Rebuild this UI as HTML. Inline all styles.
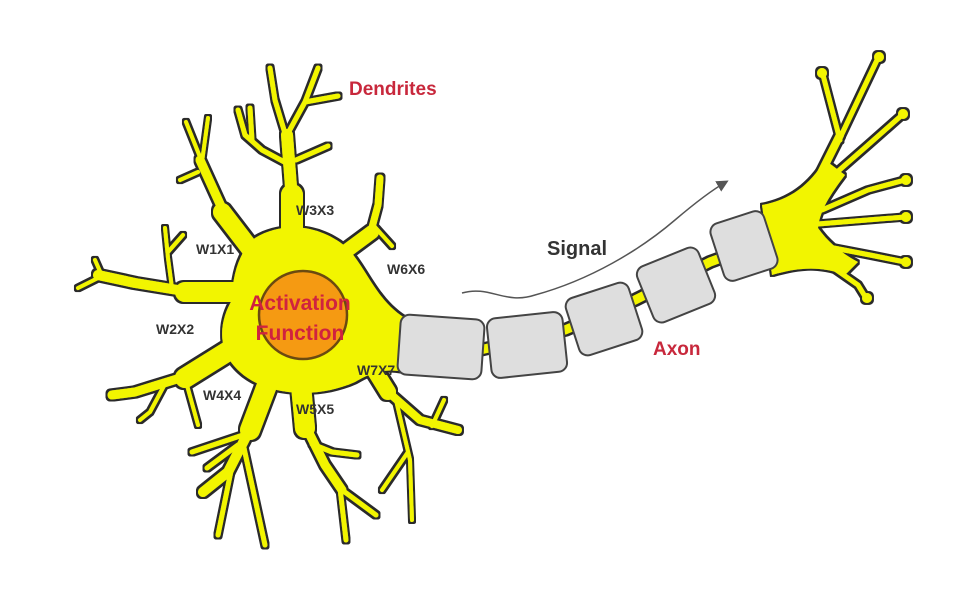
<!DOCTYPE html>
<html><head><meta charset="utf-8"><style>
html,body{margin:0;padding:0;background:#fff;}
svg{display:block;}
text{font-family:"Liberation Sans",sans-serif;font-weight:bold;}
</style></head><body>
<svg width="980" height="595" viewBox="0 0 980 595">
<defs>
<marker id="ah" markerWidth="10" markerHeight="10" refX="6" refY="5" orient="auto"><path d="M0,1 L8,5 L0,9 Z" fill="#555"/></marker>
<filter id="ol" x="-5%" y="-5%" width="110%" height="110%">
<feMorphology in="SourceAlpha" operator="dilate" radius="2" result="d"/>
<feFlood flood-color="#2a2a2a"/>
<feComposite in2="d" operator="in" result="o"/>
<feMerge><feMergeNode in="o"/><feMergeNode in="SourceGraphic"/></feMerge>
</filter>
</defs>
<g filter="url(#ol)" stroke-linecap="round" stroke-linejoin="round">
<g fill="none" stroke="#f2f500">
<!-- top -->
<path stroke-width="22" d="M292,250 L292,195"/>
<path stroke-width="12" d="M292,200 L287,135"/>
<path stroke-width="5" d="M287,140 L275,100 L270,68 M287,135 L305,102 L318,68 M305,102 L338,96 M290,165 L262,150 L245,135 L238,110 M252,140 L250,108 M296,160 L328,146"/>
<!-- upper-left -->
<path stroke-width="18" d="M255,255 L222,212"/>
<path stroke-width="9" d="M225,215 L200,160"/>
<path stroke-width="4" d="M202,162 L186,122 M202,162 L208,118 M198,172 L180,180"/>
<!-- left -->
<path stroke-width="20" d="M245,292 L185,292"/>
<path stroke-width="10" d="M190,292 L135,283 L98,275"/>
<path stroke-width="4" d="M102,276 L78,288 M102,276 L95,260 M172,288 L168,258 L165,228 M168,252 L183,235"/>
<!-- lower-left -->
<path stroke-width="20" d="M238,345 L185,378"/>
<path stroke-width="9" d="M190,375 L135,392 L112,395"/>
<path stroke-width="4" d="M165,384 L150,412 L140,420 M185,378 L198,425"/>
<!-- bottom-left -->
<path stroke-width="20" d="M272,372 L250,430"/>
<path stroke-width="10" d="M252,425 L228,472 L203,492"/>
<path stroke-width="5" d="M232,466 L218,535 M244,448 L265,545 M246,434 L192,452 M238,445 L207,468"/>
<!-- bottom -->
<path stroke-width="20" d="M300,375 L305,428"/>
<path stroke-width="9" d="M305,425 L325,465 L342,490"/>
<path stroke-width="5" d="M338,487 L376,515 M340,488 L346,540 M312,444 L332,452 L357,455"/>
<!-- right bottom -->
<path stroke-width="16" d="M362,350 L388,392"/>
<path stroke-width="8" d="M388,392 L420,420 L458,430"/>
<path stroke-width="4" d="M432,426 L444,400 M396,400 L410,460 L412,520 M408,452 L382,490"/>
<!-- right top -->
<path stroke-width="14" d="M345,252 L372,232"/>
<path stroke-width="7" d="M370,235 L378,205 L380,178"/>
<path stroke-width="4" d="M374,226 L392,246"/>
</g>
<path d="M255,238 C285,220 320,226 345,246 C365,264 375,300 405,318 L405,372 C385,368 372,372 355,382 C315,400 265,395 240,372 C215,350 220,320 232,300 C232,275 240,250 255,238 Z" fill="#f2f500"/>
<path d="M400,345 L480,350 L565,330 L635,300 L710,262 L775,238" stroke="#f2f500" stroke-width="9" fill="none"/>
<g>
<path d="M762,205 C790,200 810,185 825,160 L845,175 C830,195 820,210 818,228 C830,245 845,255 858,262 L845,275 C820,265 795,268 772,275 Z" fill="#f2f500"/>
<g fill="none" stroke="#f2f500">
<path stroke-width="8" d="M815,185 L840,135"/>
<path stroke-width="5" d="M840,138 L878,58 M840,140 L823,75 M828,180 L868,145 L902,115 M822,210 L868,190 L905,180 M818,224 L905,217 M818,245 L870,255 L905,262 M815,255 L858,285 L866,298"/>
</g>
<g fill="#f2f500">
<circle cx="879" cy="57" r="5"/><circle cx="822" cy="73" r="5"/><circle cx="903" cy="114" r="5"/><circle cx="906" cy="180" r="5"/><circle cx="906" cy="217" r="5"/><circle cx="906" cy="262" r="5"/><circle cx="867" cy="298" r="5"/>
</g>
</g>
</g>
<circle cx="303" cy="315" r="44" fill="#f59a12" stroke="#6b4a10" stroke-width="2.5"/>
<g fill="#dedede" stroke="#444" stroke-width="2">
<rect x="-42" y="-30" width="84" height="60" rx="9" transform="translate(441,347) rotate(4)"/>
<rect x="-38" y="-30" width="76" height="60" rx="9" transform="translate(527,345) rotate(-6)"/>
<rect x="-33" y="-30" width="66" height="60" rx="9" transform="translate(604,319) rotate(-18)"/>
<rect x="-33" y="-30" width="66" height="60" rx="9" transform="translate(676,285) rotate(-22)"/>
<rect x="-28" y="-30" width="56" height="60" rx="9" transform="translate(744,246) rotate(-18)"/>
</g>
<path d="M462,293 C490,285 505,305 535,295 C590,280 640,250 675,220 C695,203 712,190 726,182" stroke="#555" stroke-width="1.5" fill="none" marker-end="url(#ah)"/>
<text x="349" y="95" font-size="19" fill="#c8283c">Dendrites</text>
<text x="300" y="310" font-size="21" fill="#d0223f" text-anchor="middle">Activation</text>
<text x="300" y="340" font-size="21" fill="#d0223f" text-anchor="middle">Function</text>
<text x="547" y="255" font-size="20" fill="#333">Signal</text>
<text x="653" y="355" font-size="19" fill="#c8283c">Axon</text>
<g font-size="14" fill="#333">
<text x="196" y="254">W1X1</text>
<text x="156" y="334">W2X2</text>
<text x="296" y="215">W3X3</text>
<text x="203" y="400">W4X4</text>
<text x="296" y="414">W5X5</text>
<text x="387" y="274">W6X6</text>
<text x="357" y="375">W7X7</text>
</g>
</svg>
</body></html>
